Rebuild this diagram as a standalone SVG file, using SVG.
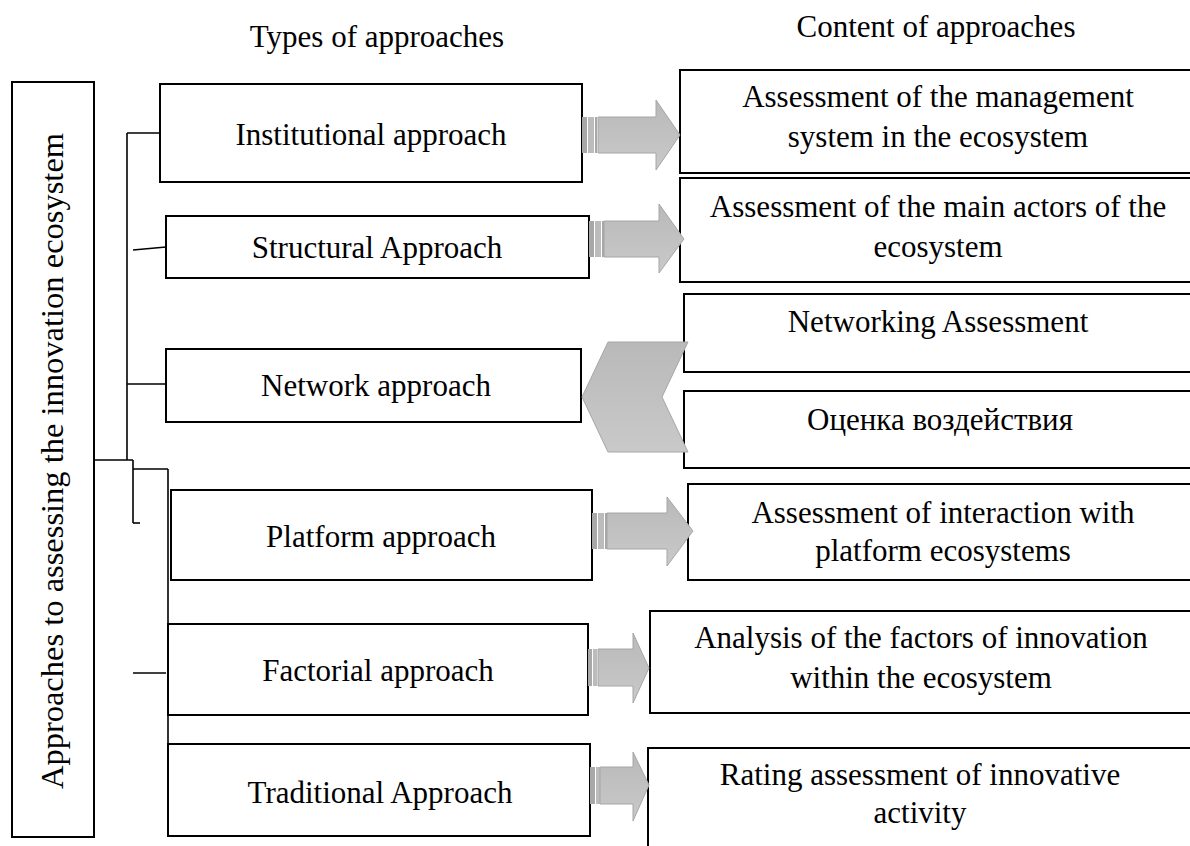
<svg xmlns="http://www.w3.org/2000/svg" width="1190" height="846" viewBox="0 0 1190 846">
<defs>
<style>
.box{fill:#fff;stroke:#000;stroke-width:2}
.t{font-family:"Liberation Serif","Times New Roman",serif;font-size:31px;fill:#000;text-anchor:middle}
.con{stroke:#000;stroke-width:1.6;fill:none}
.arr{fill:url(#ag);stroke:#a6a6a6;stroke-width:1}
.s1{fill:#a8a8a8}
.s2{fill:#bcbcbc}
</style>
<linearGradient id="ag" x1="0" y1="0" x2="0" y2="1">
<stop offset="0" stop-color="#b9b9b9"/>
<stop offset="1" stop-color="#c9c9c9"/>
</linearGradient>
</defs>
<rect width="1190" height="846" fill="#fff"/>

<text class="t" x="377" y="47">Types of approaches</text>
<text class="t" x="936" y="37">Content of approaches</text>

<g id="connectors">
<line class="con" x1="127" y1="133" x2="127" y2="460"/>
<line class="con" x1="127" y1="133" x2="160" y2="133"/>
<line class="con" x1="133" y1="250" x2="166" y2="247"/>
<line class="con" x1="127" y1="384" x2="166" y2="384"/>
<line class="con" x1="94" y1="460" x2="133" y2="460"/>
<line class="con" x1="133" y1="460" x2="133" y2="523"/>
<line class="con" x1="133" y1="523" x2="140" y2="523"/>
<line class="con" x1="133" y1="469" x2="168" y2="469"/>
<line class="con" x1="168" y1="469" x2="168" y2="836"/>
<line class="con" x1="133" y1="673" x2="166" y2="673"/>
</g>

<g id="root">
<rect class="box" x="12" y="82" width="82" height="755"/>
<text class="t" style="font-size:32.5px" transform="translate(63,461) rotate(-90)">Approaches to assessing the innovation ecosystem</text>
</g>

<g id="institutional">
<rect class="box" x="160" y="84" width="422" height="98"/>
<text class="t" x="371" y="145">Institutional approach</text>
</g>
<g id="structural">
<rect class="box" x="166" y="216" width="423" height="62"/>
<text class="t" x="377" y="258">Structural Approach</text>
</g>
<g id="network">
<rect class="box" x="166" y="349" width="415" height="73"/>
<text class="t" x="376" y="396">Network approach</text>
</g>
<g id="platform">
<rect class="box" x="171" y="490" width="421" height="90"/>
<text class="t" x="381" y="547">Platform approach</text>
</g>
<g id="factorial">
<rect class="box" x="168" y="624" width="420" height="91"/>
<text class="t" x="378" y="681">Factorial approach</text>
</g>
<g id="traditional">
<rect class="box" x="168" y="744" width="422" height="92"/>
<text class="t" x="380" y="803">Traditional Approach</text>
</g>

<g id="content-management">
<rect class="box" x="680" y="70" width="516" height="103"/>
<text class="t" x="938" y="107">Assessment of the management</text>
<text class="t" x="938" y="147">system in the ecosystem</text>
</g>
<g id="content-actors">
<rect class="box" x="680" y="178" width="516" height="104"/>
<text class="t" x="938" y="217">Assessment of the main actors of the</text>
<text class="t" x="938" y="257">ecosystem</text>
</g>
<g id="content-networking">
<rect class="box" x="684" y="294" width="512" height="78"/>
<text class="t" x="938" y="332">Networking Assessment</text>
</g>
<g id="content-impact">
<rect class="box" x="684" y="391" width="512" height="77"/>
<text class="t" x="940" y="430">Оценка воздействия</text>
</g>
<g id="content-platform">
<rect class="box" x="688" y="484" width="508" height="96"/>
<text class="t" x="943" y="523">Assessment of interaction with</text>
<text class="t" x="943" y="561">platform ecosystems</text>
</g>
<g id="content-factors">
<rect class="box" x="650" y="611" width="542" height="102"/>
<text class="t" x="921" y="648">Analysis of the factors of innovation</text>
<text class="t" x="921" y="688">within the ecosystem</text>
</g>
<g id="content-rating">
<rect class="box" x="648" y="748" width="548" height="102"/>
<text class="t" x="920" y="785">Rating assessment of innovative</text>
<text class="t" x="920" y="823">activity</text>
</g>

<g id="arrows">
<g id="arrow1">
<rect class="s1" x="582" y="117" width="5" height="36"/>
<rect class="s2" x="588" y="117" width="6" height="36"/>
<rect class="s1" x="595" y="117" width="2" height="36"/>
<path class="arr" d="M598,117 H656 V100 L680,135 L656,170 V153 H598 Z"/>
</g>
<g id="arrow2">
<rect class="s1" x="589" y="221" width="5" height="36"/>
<rect class="s2" x="595" y="221" width="6" height="36"/>
<rect class="s1" x="602" y="221" width="2" height="36"/>
<path class="arr" d="M604,221 H659 V204 L684,239 L659,273 V257 H604 Z"/>
</g>
<g id="chevron">
<path class="arr" d="M608,342 H688 L662,397 L688,452 H608 L582,397 Z"/>
</g>
<g id="arrow4">
<rect class="s1" x="592" y="513" width="5" height="36"/>
<rect class="s2" x="598" y="513" width="6" height="36"/>
<rect class="s1" x="605" y="513" width="2" height="36"/>
<path class="arr" d="M607,513 H667 V497 L693,531 L667,566 V549 H607 Z"/>
</g>
<g id="arrow5">
<rect class="s1" x="588" y="649" width="4" height="37"/>
<rect class="s2" x="593" y="649" width="4" height="37"/>
<path class="arr" d="M598,649 H633 V633 L649,668 L633,703 V686 H598 Z"/>
</g>
<g id="arrow6">
<rect class="s1" x="590" y="767" width="5" height="37"/>
<rect class="s2" x="596" y="767" width="4" height="37"/>
<path class="arr" d="M600,767 H633 V752 L649,785 L633,821 V804 H600 Z"/>
</g>
</g>
</svg>
